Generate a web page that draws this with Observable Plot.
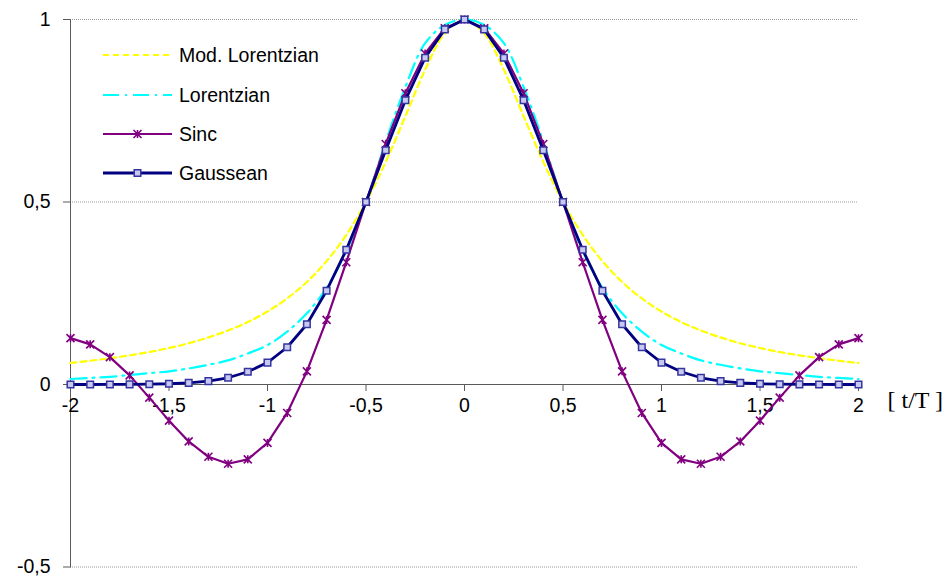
<!DOCTYPE html>
<html><head><meta charset="utf-8">
<script src="https://cdn.jsdelivr.net/npm/d3@7"></script>
<script src="https://cdn.jsdelivr.net/npm/@observablehq/plot@0.6"></script>
<style>
body{margin:0;background:#fff;}
#wrap{position:relative;width:951px;height:581px;}
#legend{position:absolute;left:0;top:0;pointer-events:none;}
</style></head><body><div id="wrap"></div>
<script>
// ---- data ----
const tValues = [-2,-1.9,-1.8,-1.7,-1.6,-1.5,-1.4,-1.3,-1.2,-1.1,-1,-0.9,-0.8,-0.7,-0.6,-0.5,-0.4,-0.3,-0.2,-0.1,0,
  0.1,0.2,0.3,0.4,0.5,0.6,0.7,0.8,0.9,1,1.1,1.2,1.3,1.4,1.5,1.6,1.7,1.8,1.9,2];
const modLorentzian = [0.059,0.065,0.072,0.080,0.089,0.1,0.113,0.129,0.148,0.171,0.2,0.236,0.281,0.338,0.410,0.5,0.610,0.735,0.862,0.962,1,
  0.962,0.862,0.735,0.610,0.5,0.410,0.338,0.281,0.236,0.2,0.171,0.148,0.129,0.113,0.1,0.089,0.080,0.072,0.065,0.059];
const lorentzian = [0.015,0.018,0.021,0.026,0.031,0.036,0.044,0.054,0.066,0.085,0.108,0.145,0.195,0.265,0.365,0.5,0.665,0.815,0.935,0.985,1,
  0.985,0.935,0.815,0.665,0.5,0.365,0.265,0.195,0.145,0.108,0.085,0.066,0.054,0.044,0.036,0.031,0.026,0.021,0.018,0.015];
const sinc = [0.127,0.110,0.075,0.025,-0.036,-0.099,-0.156,-0.198,-0.217,-0.205,-0.160,-0.078,0.036,0.177,0.335,0.5,0.659,0.798,0.907,0.976,1,
  0.976,0.907,0.798,0.659,0.5,0.335,0.177,0.036,-0.078,-0.160,-0.205,-0.217,-0.198,-0.156,-0.099,-0.036,0.025,0.075,0.110,0.127];
const gaussean = [0,0,0.0001,0.0003,0.0008,0.002,0.0044,0.0092,0.0184,0.0349,0.06,0.102,0.165,0.257,0.369,0.5,0.642,0.779,0.895,0.973,1,
  0.973,0.895,0.779,0.642,0.5,0.369,0.257,0.165,0.102,0.06,0.0349,0.0184,0.0092,0.0044,0.002,0.0008,0.0003,0.0001,0,0];
const seriesNames = ["Mod. Lorentzian","Lorentzian","Sinc","Gaussean"];
const xTicks = [-2,-1.5,-1,-0.5,0,0.5,1,1.5,2];
const yTicks = [-0.5,0,0.5,1];
const gridY = [-0.5,0.5,1];
const xLabel = "[ t/T ]";
const xLabelAt = [0];

// ---- helpers ----
const table = vals => tValues.map((t,i) => ({t, v: vals[i]}));
const fmt = d => String(d).replace(".", ",");
const sans = "'Liberation Sans', Arial, sans-serif";
const fs = 19.5;
const axisColor = "#5a5a5a";
const starSymbol = {draw(ctx, size){
  const r = Math.sqrt(size/Math.PI);
  ctx.moveTo(-r,-r); ctx.lineTo(r,r);
  ctx.moveTo(-r,r); ctx.lineTo(r,-r);
  ctx.moveTo(0,-r); ctx.lineTo(0,r);
}};
const styles = [
  {stroke:"#ffff00", strokeWidth:2.2, strokeDasharray:"6,4"},
  {stroke:"#00ffff", strokeWidth:2.2, strokeDasharray:"16,6,2,6"},
  {stroke:"#800080", strokeWidth:2.2},
  {stroke:"#000080", strokeWidth:2.8}
];
const starR = 4;
const sqR = 3.7;
const sqStyle = {fill:"#c8c8f0", stroke:"#3535a0", strokeWidth:1.5};

const chart = Plot.plot({
  width: 951, height: 581,
  marginLeft: 70, marginRight: 93, marginTop: 19, marginBottom: 14.5,
  x: {domain: [-2, 2], axis: null},
  y: {domain: [-0.5, 1], axis: null},
  style: {fontFamily: sans, fontSize: fs + "px", color: "#000", background: "#fff", overflow: "visible"},
  marks: [
    Plot.ruleY(gridY, {stroke:"#9a9a9a", strokeDasharray:"1,1", strokeWidth:1}),
    Plot.axisY({ticks: yTicks, tickFormat: fmt, tickSize: 7, tickPadding: 13, label: null, fontSize: fs, stroke: axisColor}),
    Plot.frame({anchor:"left", stroke: axisColor}),
    Plot.ruleY([0], {stroke: axisColor}),
    Plot.ruleX(xTicks, {x: d => d, y1: 0, y2: 0, insetBottom: -7, stroke: axisColor}),
    Plot.text(xTicks, {x: d => d, y: 0, text: fmt, dy: 21, fontSize: fs}),
    Plot.text([xLabel], {frameAnchor: "right", y: xLabelAt, text: d => d, dx: 29, dy: 16, textAnchor: "start",
      fontFamily: "'Liberation Serif', 'Times New Roman', serif", fontSize: 24}),
    Plot.line(table(modLorentzian), {x:"t", y:"v", ...styles[0], curve:"catmull-rom"}),
    Plot.line(table(lorentzian), {x:"t", y:"v", ...styles[1], curve:"catmull-rom"}),
    Plot.line(table(sinc), {x:"t", y:"v", ...styles[2]}),
    Plot.dot(table(sinc), {x:"t", y:"v", symbol: starSymbol, r: starR, fill:"none", stroke:"#800080", strokeWidth:1.6}),
    Plot.line(table(gaussean), {x:"t", y:"v", ...styles[3]}),
    Plot.dot(table(gaussean), {x:"t", y:"v", symbol: "square", r: sqR, ...sqStyle})
  ]
});
const wrap = document.getElementById("wrap");
wrap.appendChild(chart);

// ---- legend overlay ----
const lg = d3.select(wrap).append("svg").attr("id","legend").attr("width",951).attr("height",581);
const rowY = [55, 95, 134, 173];
seriesNames.forEach((name, i) => {
  const g = lg.append("g").attr("transform", `translate(0,${rowY[i]})`);
  const s = styles[i];
  g.append("line").attr("x1",103).attr("x2",172).attr("y1",0).attr("y2",0)
    .attr("stroke", s.stroke).attr("stroke-width", s.strokeWidth).attr("stroke-dasharray", s.strokeDasharray || null);
  if (i === 2) {
    g.append("path").attr("transform","translate(137.5,0)")
      .attr("d", d3.symbol(starSymbol, starR*starR*Math.PI)()).attr("fill","none").attr("stroke","#800080").attr("stroke-width",1.6);
  }
  if (i === 3) {
    g.append("path").attr("transform","translate(137.5,0)")
      .attr("d", d3.symbol(d3.symbolSquare, sqR*sqR*Math.PI)()).attr("fill",sqStyle.fill).attr("stroke",sqStyle.stroke).attr("stroke-width",1.5);
  }
  g.append("text").attr("x",179).attr("y",0).attr("dy","0.35em")
    .attr("font-family", sans).attr("font-size",fs).attr("fill","#000").text(name);
});
</script>
</body></html>
